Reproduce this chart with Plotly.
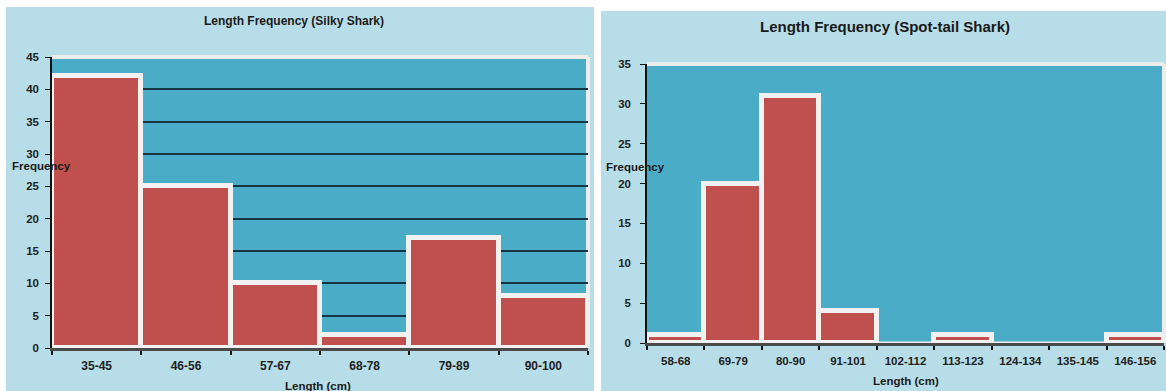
import plotly.graph_objects as go

# ---- data ----
silky_bins = ["35-45", "46-56", "57-67", "68-78", "79-89", "90-100"]
silky_freq = [42, 25, 10, 2, 17, 8]

spot_bins = ["58-68", "69-79", "80-90", "91-101", "102-112", "113-123", "124-134", "135-145", "146-156"]
spot_freq = [1, 20, 31, 4, 0, 1, 0, 0, 1]

title_left = "Length Frequency (Silky Shark)"
title_right = "Length Frequency (Spot-tail Shark)"
y_title = "Frequency"
x_title = "Length (cm)"

# ---- style ----
W, H = 1166, 391
RED = "#c0504d"
EDGE = "#f2f2f2"
PLOT_BG = "#4aacc6"
PANEL_BG = "#b7dee8"
FONT = "Liberation Sans"

def px(x):
    return x / W

def py(y):
    return 1 - y / H

fig = go.Figure()

fig.add_trace(go.Bar(
    x=silky_bins, y=silky_freq, xaxis="x", yaxis="y",
    marker=dict(color=RED, line=dict(color=EDGE, width=5)),
    showlegend=False, hoverinfo="x+y",
))
fig.add_trace(go.Bar(
    x=spot_bins, y=spot_freq, xaxis="x2", yaxis="y2",
    marker=dict(color=RED, line=dict(color=EDGE, width=[5 if v > 0 else 0 for v in spot_freq])),
    showlegend=False, hoverinfo="x+y",
))

def tf(size):
    return dict(family=FONT, size=size, color="#222222", weight="bold")

common_x = dict(
    type="category", showline=True, linecolor="#4a4a4a", linewidth=3,
    ticks="outside", tickson="boundaries", ticklen=4, tickcolor="#111111", tickwidth=1.5,
    showgrid=False, zeroline=False, ticklabelstandoff=5,
    fixedrange=True, automargin=False,
)
common_y = dict(
    showline=True, linecolor="#111111", linewidth=1.5,
    ticks="outside", ticklen=5, tickcolor="#111111", tickwidth=1,
    zeroline=False, dtick=5, fixedrange=True, automargin=False,
)

fig.update_layout(
    template="none",
    width=W, height=H,
    margin=dict(l=0, r=0, t=0, b=0, pad=0, autoexpand=False),
    paper_bgcolor=PANEL_BG,
    plot_bgcolor=PLOT_BG,
    bargap=0,
    xaxis=dict(domain=[px(52), px(588)], anchor="y", range=[-0.5, len(silky_bins) - 0.5],
               tickfont=tf(12), **common_x),
    yaxis=dict(domain=[py(348), py(57)], anchor="x", range=[0, 45], tickfont=tf(11.5),
               showgrid=True, gridcolor="#173540", gridwidth=1.5, ticklabelstandoff=4, **common_y),
    xaxis2=dict(domain=[px(647), px(1164)], anchor="y2", range=[-0.5, len(spot_bins) - 0.5],
                tickfont=tf(11.5), **common_x),
    yaxis2=dict(domain=[py(343), py(64)], anchor="x2", range=[0, 35], tickfont=tf(11.5),
                showgrid=False, ticklabelstandoff=7, **common_y),
)

# white gaps around the two panels
white_rects = [
    (0, 0, 6, H),        # left margin
    (0, 0, 601, 7),      # top over left panel
    (594, 0, 601, H),    # gap between panels
    (601, 0, W, 11),     # top over right panel
]
for x0, y0, x1, y1 in white_rects:
    fig.add_shape(type="rect", xref="paper", yref="paper",
                  x0=px(x0), x1=px(x1), y0=py(y1), y1=py(y0),
                  fillcolor="white", line=dict(width=0), layer="below")

# light frames around plot areas
for xr, yr in (("x domain", "y domain"), ("x2 domain", "y2 domain")):
    fig.add_shape(type="line", xref=xr, yref=yr, x0=0, x1=1, y0=1, y1=1,
                  line=dict(color="#ededed", width=4), layer="below")
    fig.add_shape(type="line", xref=xr, yref=yr, x0=1, x1=1, y0=0, y1=1,
                  line=dict(color="#ededed", width=4), layer="below")
    fig.add_shape(type="line", xref=xr, yref=yr, x0=0, x1=1, y0=0, y1=0,
                  line=dict(color="#ededed", width=3), layer="below")

def note(text, x, y, size, anchor="center"):
    fig.add_annotation(text=text, xref="paper", yref="paper", x=px(x), y=py(y),
                       showarrow=False, xanchor=anchor, yanchor="middle",
                       font=dict(family=FONT, size=size, color="#1a1a1a", weight="bold"))

note(title_left, 294, 21, 12)
note(title_right, 885, 27, 15)
note(y_title, 10, 166, 11.5, "left")
note(y_title, 604, 167, 11.5, "left")
note(x_title, 318, 386, 11.5)
note(x_title, 906, 381, 11.5)

fig.write_html("out.html")
